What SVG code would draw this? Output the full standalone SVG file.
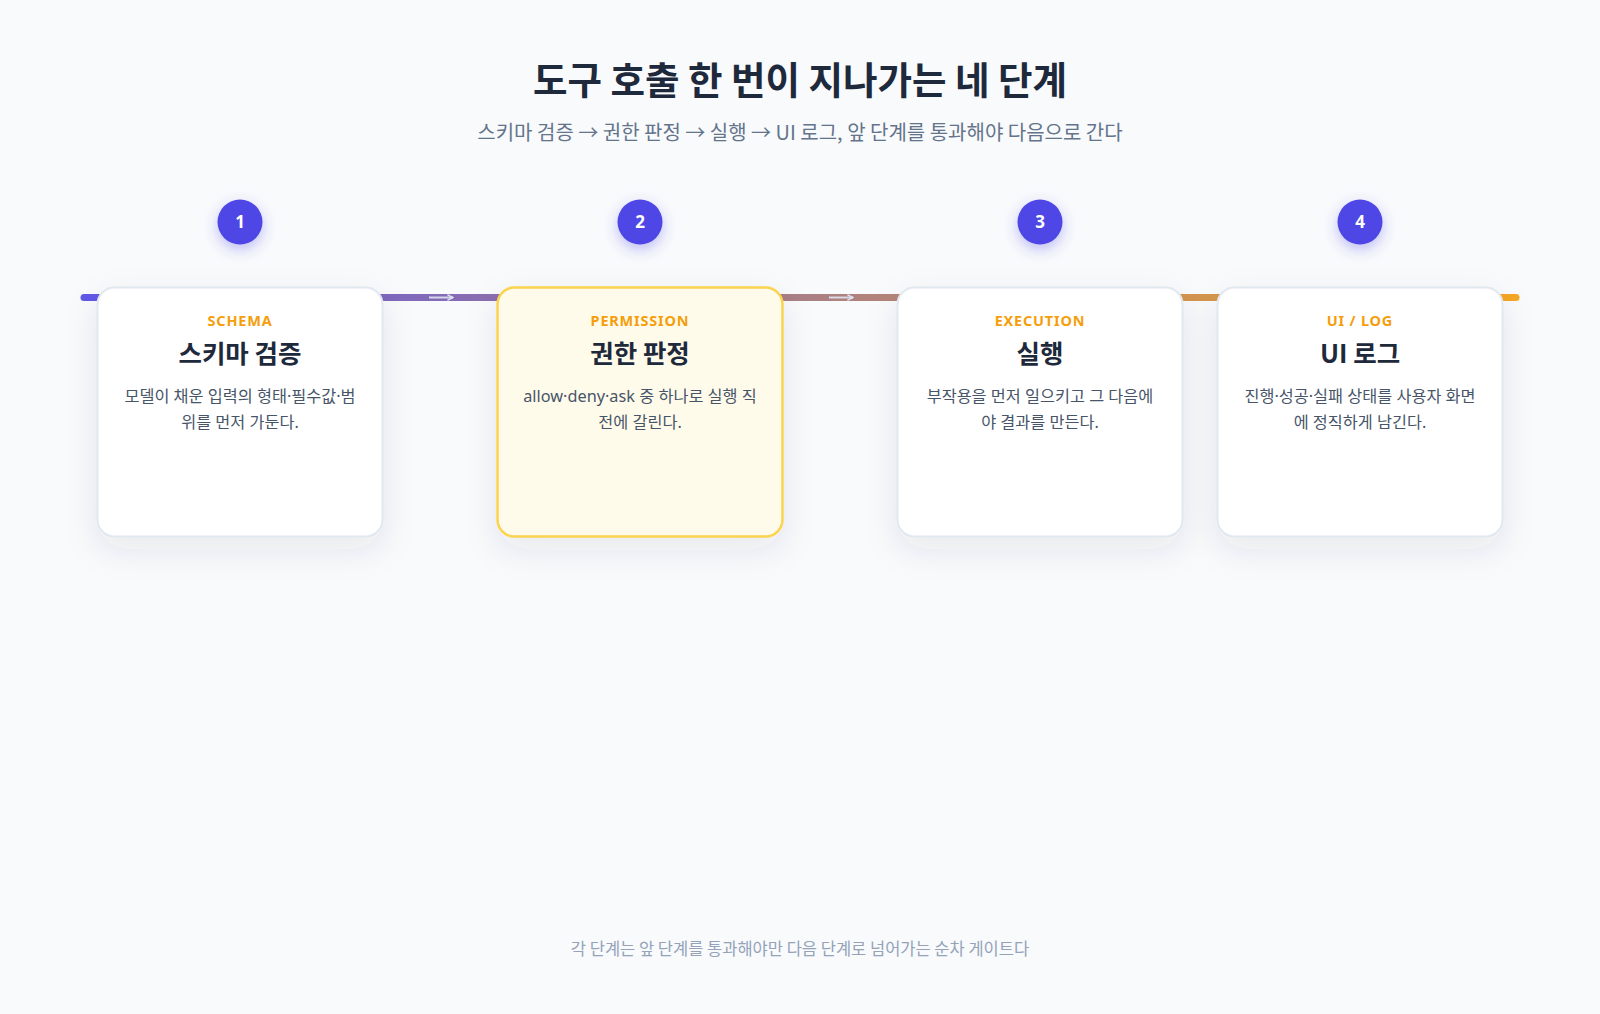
<svg xmlns="http://www.w3.org/2000/svg" width="1600" height="1014" viewBox="0 0 1600 1014">
<defs>
<linearGradient id="rail" x1="83" y1="0" x2="1516" y2="0" gradientUnits="userSpaceOnUse">
<stop offset="0" stop-color="#4f46e5"/>
<stop offset="1" stop-color="#f59e0b"/>
</linearGradient>
<filter id="cardShadow" x="-25%" y="-25%" width="150%" height="160%">
<feDropShadow dx="0" dy="12" stdDeviation="16" flood-color="#334155" flood-opacity="0.09"/>
</filter>
<filter id="dotGlow" x="-80%" y="-80%" width="260%" height="260%">
<feDropShadow dx="0" dy="5" stdDeviation="7" flood-color="#4f46e5" flood-opacity="0.35"/>
</filter>
<marker id="arr" viewBox="0 0 10 10" refX="9" refY="5" markerWidth="7" markerHeight="7" markerUnits="userSpaceOnUse" orient="auto">
<path d="M1,1 L9,5 L1,9" fill="none" stroke="#dfe3f3" stroke-width="2"/>
</marker>
<style>
text{font-family:"Noto Sans","Noto Sans CJK KR",sans-serif;text-anchor:middle}
.title{font-size:37.5px;font-weight:700;fill:#1e293b;font-family:"Noto Sans CJK KR",sans-serif}
.sub{font-size:20px;fill:#64748b;font-family:"Noto Sans CJK KR",sans-serif}
.foot{font-size:16.5px;fill:#94a3b8;font-family:"Noto Sans CJK KR",sans-serif}
.card{fill:#ffffff;stroke:#e2e8f0;stroke-width:2;filter:url(#cardShadow)}
.card.hl{fill:#fffbeb;stroke:#fcd34d;stroke-width:2.5}
.kick{font-size:14.5px;font-weight:700;fill:#f59e0b;letter-spacing:0.8px}
.ctitle{font-size:25.5px;font-weight:700;fill:#1e293b;font-family:"Noto Sans CJK KR",sans-serif}
.desc{font-size:16.3px;fill:#475569}
.dot{fill:#4f46e5;filter:url(#dotGlow)}
.num{font-size:17px;font-weight:700;fill:#ffffff}
.conn{stroke:#dfe3f3;stroke-width:2;fill:none;stroke-opacity:0.9}
</style>
</defs>
<rect width="1600" height="1014" fill="#f8fafc"/>

<g id="header">
<text class="title" x="800" y="94">도구 호출 한 번이 지나가는 네 단계</text>
<text class="sub" x="800" y="140">스키마 검증 → 권한 판정 → 실행 → UI 로그, 앞 단계를 통과해야 다음으로 간다</text>
</g>

<line id="rail" x1="84" y1="297.5" x2="1516" y2="297.5" stroke="url(#rail)" stroke-width="7" stroke-linecap="round" stroke-opacity="0.9"/>

<g id="connectors">
<line class="conn" x1="429" y1="297.5" x2="453" y2="297.5" marker-end="url(#arr)"/>
<line class="conn" x1="829" y1="297.5" x2="853" y2="297.5" marker-end="url(#arr)"/>
</g>

<g id="step1">
<circle class="dot" cx="240" cy="222" r="22.5"/>
<text class="num" x="240" y="228">1</text>
<rect class="card" x="97.5" y="287.5" width="285" height="249" rx="17"/>
<text class="kick" x="240" y="326">SCHEMA</text>
<text class="ctitle" x="240" y="363">스키마 검증</text>
<text class="desc" x="240" y="402">모델이 채운 입력의 형태·필수값·범</text>
<text class="desc" x="240" y="428">위를 먼저 가둔다.</text>
</g>

<g id="step2">
<circle class="dot" cx="640" cy="222" r="22.5"/>
<text class="num" x="640" y="228">2</text>
<rect class="card hl" x="497.5" y="287.5" width="285" height="249" rx="17"/>
<text class="kick" x="640" y="326">PERMISSION</text>
<text class="ctitle" x="640" y="363">권한 판정</text>
<text class="desc" x="640" y="402">allow·deny·ask 중 하나로 실행 직</text>
<text class="desc" x="640" y="428">전에 갈린다.</text>
</g>

<g id="step3">
<circle class="dot" cx="1040" cy="222" r="22.5"/>
<text class="num" x="1040" y="228">3</text>
<rect class="card" x="897.5" y="287.5" width="285" height="249" rx="17"/>
<text class="kick" x="1040" y="326">EXECUTION</text>
<text class="ctitle" x="1040" y="363">실행</text>
<text class="desc" x="1040" y="402">부작용을 먼저 일으키고 그 다음에</text>
<text class="desc" x="1040" y="428">야 결과를 만든다.</text>
</g>

<g id="step4">
<circle class="dot" cx="1360" cy="222" r="22.5"/>
<text class="num" x="1360" y="228">4</text>
<rect class="card" x="1217.5" y="287.5" width="285" height="249" rx="17"/>
<text class="kick" x="1360" y="326">UI / LOG</text>
<text class="ctitle" x="1360" y="363">UI 로그</text>
<text class="desc" x="1360" y="402">진행·성공·실패 상태를 사용자 화면</text>
<text class="desc" x="1360" y="428">에 정직하게 남긴다.</text>
</g>

<g id="footer">
<text class="foot" x="800" y="955">각 단계는 앞 단계를 통과해야만 다음 단계로 넘어가는 순차 게이트다</text>
</g>
</svg>
